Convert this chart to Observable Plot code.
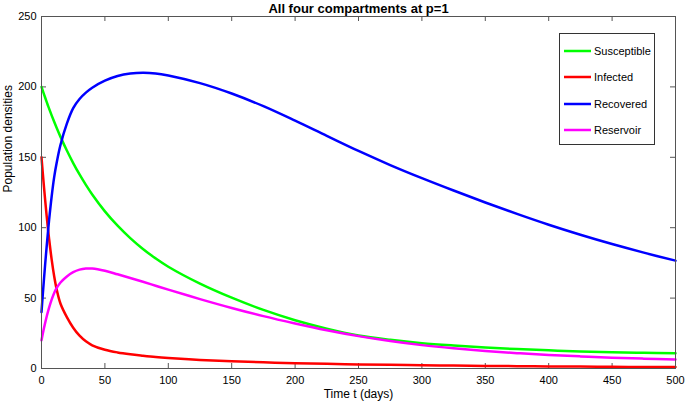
<!DOCTYPE html>
<html><head><meta charset="utf-8">
<script src="https://cdn.jsdelivr.net/npm/d3@7"></script>
<script src="https://cdn.jsdelivr.net/npm/@observablehq/plot@0.6"></script>
<style>
body{margin:0;background:#fff;font-family:"Liberation Sans",Arial,Helvetica,sans-serif}
#wrap{position:relative;width:685px;height:408px}
#legend{position:absolute;left:559px;top:33px;width:94px;height:110px;border:1px solid #333;background:#fff;font-size:11px;color:#000}
.item{position:absolute;left:4px;height:14px;display:flex;align-items:center}
.item svg{margin-right:3px}
</style>
</head><body>
<div id="wrap"><div id="legend"></div></div>
<script>
const titleText = "All four compartments at p=1";
const xLabel = "Time t (days)";
const yLabel = "Population densities";
const seriesNames = ["Susceptible", "Infected", "Recovered", "Reservoir"];
const seriesColors = ["#00ff00", "#ff0000", "#0000ff", "#ff00ff"];
const xTicks = [0,50,100,150,200,250,300,350,400,450,500];
const yTicks = [0,50,100,150,200,250];
const times = [0,1,2,3,4,5,6,8,10,12,15,20,25,30,35,40,50,60,70,80,90,100,125,150,175,200,225,250,275,300,325,350,375,400,425,450,475,500];
const susceptible = [200,197.3,194.7,192.1,189.5,187,184.6,179.8,175.2,170.8,164.5,154.8,145.9,137.8,130.4,123.6,111.6,101.4,92.6,84.9,78.2,72.3,60.3,50.3,41.6,34.3,28.3,23.5,20.4,18,16.3,14.9,13.8,12.9,12.1,11.5,11.1,10.8];
const infected = [150,139,128.5,118.5,109,100,92,77.5,65.5,56,46,36.5,29,23.3,19.3,16.5,13.3,11.4,10.1,9.1,8.2,7.5,6.1,5.1,4.4,3.8,3.3,2.9,2.6,2.3,2.05,1.85,1.65,1.5,1.35,1.2,1.1,1.0];
const recovered = [40,52.3,64.1,75.3,85.9,96,105.5,122.1,135.9,146.3,158.9,173.9,184.9,191.4,195.9,199.4,204.4,207.7,209.5,210.1,209.6,208.1,202.7,195.3,186.3,176,165.2,154.5,144.5,135.2,126.4,117.9,109.8,102.1,95,88.4,82.3,76.6];
const reservoir = [20,24.6,28.9,32.9,36.6,40,43.2,48.9,53.6,57.2,61.1,65.4,68.4,70.2,71,71,69.4,66.9,64.3,61.6,58.8,56,49.3,43,37.2,32,27.2,23,19.5,16.6,14.3,12.4,10.9,9.6,8.6,7.7,7.0,6.4];

const seriesValues = [susceptible, infected, recovered, reservoir];
const rows = [];
seriesNames.forEach((name, k) => times.forEach((t, i) => rows.push({series: name, t, v: seriesValues[k][i]})));

const xDomain = [0, 500], yDomain = [0, 250];
const W = 685, H = 408, mt = 16, mb = 40, ml = 41, mr = 10;
const innerH = H - mt - mb, innerW = W - ml - mr;
const tickLen = 5;
const ty = tickLen * (yDomain[1] - yDomain[0]) / innerH; // tick length in y units
const tx = tickLen * (xDomain[1] - xDomain[0]) / innerW; // tick length in x units
const axisColor = "#555";

const chart = Plot.plot({
  width: W, height: H,
  marginLeft: ml, marginRight: mr, marginTop: mt, marginBottom: mb,
  style: {fontFamily: '"Liberation Sans", Arial, Helvetica, sans-serif', fontSize: "11px", background: "#fff", color: "#000"},
  x: {domain: xDomain},
  y: {domain: yDomain},
  color: {domain: seriesNames, range: seriesColors},
  marks: [
    Plot.axisX({ticks: xTicks, tickSize: 0, tickPadding: 8, label: null, fontSize: 11}),
    Plot.axisY({ticks: yTicks, tickSize: 0, tickPadding: 5, label: null, fontSize: 11}),
    Plot.ruleX(xTicks, {x: d => d, y1: yDomain[0], y2: yDomain[0] + ty, stroke: axisColor}),
    Plot.ruleX(xTicks, {x: d => d, y1: yDomain[1], y2: yDomain[1] - ty, stroke: axisColor}),
    Plot.ruleY(yTicks, {y: d => d, x1: xDomain[0], x2: xDomain[0] + tx, stroke: axisColor}),
    Plot.ruleY(yTicks, {y: d => d, x1: xDomain[1], x2: xDomain[1] - tx, stroke: axisColor}),
    Plot.line(rows, {x: "t", y: "v", z: "series", stroke: "series", strokeWidth: 2.5, curve: "catmull-rom"}),
    Plot.frame({stroke: axisColor}),
    Plot.text([titleText], {text: d => d, frameAnchor: "top", lineAnchor: "middle", dy: -8, fontWeight: "bold", fontSize: 13}),
    Plot.text([xLabel], {text: d => d, frameAnchor: "bottom", lineAnchor: "middle", dy: 26, fontSize: 12}),
    Plot.text([yLabel], {text: d => d, frameAnchor: "left", lineAnchor: "middle", dx: -33, rotate: -90, fontSize: 12})
  ]
});
document.getElementById("wrap").prepend(chart);

const legend = document.getElementById("legend");
const offsets = [17, 43, 70, 96];
seriesNames.forEach((name, i) => {
  const item = document.createElement("div");
  item.className = "item";
  item.style.top = (offsets[i] - 7) + "px";
  item.innerHTML = `<svg width="27" height="4"><line x1="0" x2="27" y1="2" y2="2" stroke="${seriesColors[i]}" stroke-width="2.5"/></svg><span>${name}</span>`;
  legend.appendChild(item);
});
</script>
</body></html>
